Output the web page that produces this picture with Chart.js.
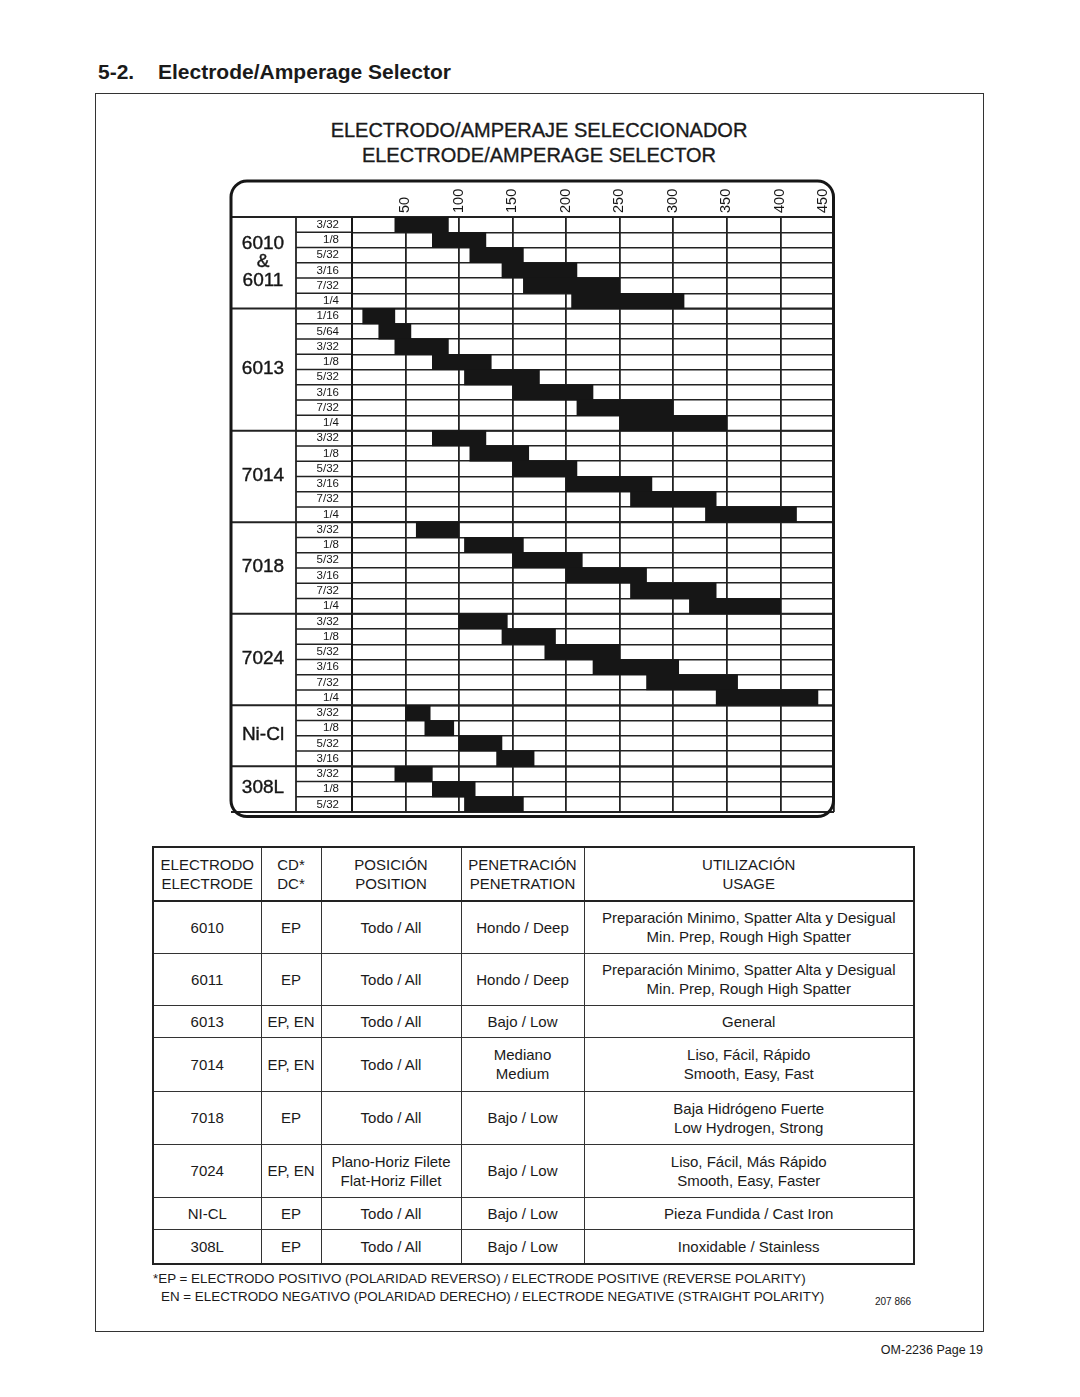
<!DOCTYPE html>
<html>
<head>
<meta charset="utf-8">
<script src="https://cdn.jsdelivr.net/npm/chart.js@4.4.1/dist/chart.umd.min.js"></script>
<style>
  html, body { margin:0; padding:0; background:#fff; }
  body { width:1080px; height:1397px; position:relative; font-family:"Liberation Sans", Arial, Helvetica, sans-serif; color:#1a1a1a; }
  .abs { position:absolute; }
  #heading { left:98px; top:60px; font-size:21px; font-weight:bold; white-space:nowrap; }
  #heading span { display:inline-block; width:60px; }
  #box { left:95px; top:93px; width:887px; height:1237px; border:1px solid #333; }
  .ctitle { left:95px; width:888px; text-align:center; font-size:20px; white-space:nowrap; -webkit-text-stroke:0.35px #1a1a1a; }
  #chartWrap { left:226px; top:172px; width:614px; height:660px; }
  table { position:absolute; left:152px; top:846px; width:761px; border-collapse:collapse; table-layout:fixed; border:2.5px solid #222; }
  td { border:1.5px solid #333; text-align:center; vertical-align:middle; font-size:15px; line-height:19px; padding:0; color:#1a1a1a; }
  tr.hd td { border-bottom:2.5px solid #222; }
  .foot { font-size:13.4px; white-space:nowrap; color:#1a1a1a; }
</style>
</head>
<body>
<div id="heading" class="abs"><span>5-2.</span>Electrode/Amperage Selector</div>
<div id="box" class="abs"></div>
<div class="abs ctitle" style="top:119px;">ELECTRODO/AMPERAJE SELECCIONADOR</div>
<div class="abs ctitle" style="top:144px;">ELECTRODE/AMPERAGE SELECTOR</div>
<div id="chartWrap" class="abs"><canvas id="c" width="614" height="660"></canvas></div>

<table id="tbl">
  <colgroup><col style="width:108px"><col style="width:60px"><col style="width:140px"><col style="width:123px"><col style="width:330px"></colgroup>
  <tbody id="tb"></tbody>
</table>

<div class="abs foot" style="left:153px; top:1271px;">*EP = ELECTRODO POSITIVO (POLARIDAD REVERSO) / ELECTRODE POSITIVE (REVERSE POLARITY)</div>
<div class="abs foot" style="left:161px; top:1289px;">EN = ELECTRODO NEGATIVO (POLARIDAD DERECHO) / ELECTRODE NEGATIVE (STRAIGHT POLARITY)</div>
<div class="abs" style="left:875px; top:1296px; font-size:10px;">207 866</div>
<div class="abs" style="right:97px; top:1343px; font-size:12.5px;">OM-2236 Page 19</div>

<script>
// ---------- DATA ----------
const groupNames = [["6010","&","6011"], ["6013"], ["7014"], ["7018"], ["7024"], ["Ni-Cl"], ["308L"]];

const sizes6010 = ["3/32","1/8","5/32","3/16","7/32","1/4"];
const amps6010  = [[40,90],[75,125],[110,160],[140,210],[160,250],[205,310]];

const sizes6013 = ["1/16","5/64","3/32","1/8","5/32","3/16","7/32","1/4"];
const amps6013  = [[10,40],[25,55],[40,90],[75,130],[105,175],[150,225],[210,300],[250,350]];

const sizes7014 = ["3/32","1/8","5/32","3/16","7/32","1/4"];
const amps7014  = [[75,125],[110,165],[150,210],[200,280],[260,340],[330,415]];

const sizes7018 = ["3/32","1/8","5/32","3/16","7/32","1/4"];
const amps7018  = [[60,100],[105,160],[150,215],[200,275],[260,340],[315,400]];

const sizes7024 = ["3/32","1/8","5/32","3/16","7/32","1/4"];
const amps7024  = [[100,145],[140,190],[180,250],[225,305],[275,360],[340,435]];

const sizesNiCl = ["3/32","1/8","5/32","3/16"];
const ampsNiCl  = [[50,73],[68,95],[100,140],[135,170]];

const sizes308L = ["3/32","1/8","5/32"];
const amps308L  = [[40,75],[75,115],[105,160]];

const ampTickValues = [0,50,100,150,200,250,300,350,400,450];
const ampTickLabels = ["","50","100","150","200","250","300","350","400","450"];

// table data
const tblHeader = [["ELECTRODO","ELECTRODE"],["CD*","DC*"],["POSICIÓN","POSITION"],["PENETRACIÓN","PENETRATION"],["UTILIZACIÓN","USAGE"]];
const tblElectrode = ["6010","6011","6013","7014","7018","7024","NI-CL","308L"];
const tblPolarity  = ["EP","EP","EP, EN","EP, EN","EP","EP, EN","EP","EP"];
const tblPosition  = [["Todo / All"],["Todo / All"],["Todo / All"],["Todo / All"],["Todo / All"],["Plano-Horiz Filete","Flat-Horiz Fillet"],["Todo / All"],["Todo / All"]];
const tblPenetration = [["Hondo / Deep"],["Hondo / Deep"],["Bajo / Low"],["Mediano","Medium"],["Bajo / Low"],["Bajo / Low"],["Bajo / Low"],["Bajo / Low"]];
const tblUsage = [["Preparación Minimo, Spatter Alta y Desigual","Min. Prep, Rough High Spatter"],["Preparación Minimo, Spatter Alta y Desigual","Min. Prep, Rough High Spatter"],["General"],["Liso, Fácil, Rápido","Smooth, Easy, Fast"],["Baja Hidrógeno Fuerte","Low Hydrogen, Strong"],["Liso, Fácil, Más Rápido","Smooth, Easy, Faster"],["Pieza Fundida / Cast Iron"],["Inoxidable / Stainless"]];
const tblRowHeights = [54,52,52,32,54,53,53,32,35];

// ---------- TABLE ----------
(function(){
  const tb = document.getElementById('tb');
  const hr = document.createElement('tr'); hr.className='hd'; hr.style.height = tblRowHeights[0]+'px';
  tblHeader.forEach(h=>{ const td=document.createElement('td'); td.innerHTML=h.join('<br>'); hr.appendChild(td); });
  tb.appendChild(hr);
  tblElectrode.forEach((e,i)=>{
    const tr=document.createElement('tr'); tr.style.height = tblRowHeights[i+1]+'px';
    [[e],[tblPolarity[i]],tblPosition[i],tblPenetration[i],tblUsage[i]].forEach(c=>{
      const td=document.createElement('td'); td.innerHTML=c.join('<br>'); tr.appendChild(td);
    });
    tb.appendChild(tr);
  });
})();

// ---------- CHART ----------
const groupSizes = [sizes6010, sizes6013, sizes7014, sizes7018, sizes7024, sizesNiCl, sizes308L];
const groupAmps  = [amps6010, amps6013, amps7014, amps7018, amps7024, ampsNiCl, amps308L];
const allLabels = [].concat(...groupSizes);
const allData   = [].concat(...groupAmps);

const INK = '#161616';
const FONT = '"Liberation Sans", Arial, sans-serif';

const leftColumnsPlugin = {
  id: 'leftColumns',
  beforeDatasetsDraw(chart) {
    const ctx = chart.ctx, y = chart.scales.y, a = chart.chartArea;
    const rowH = y.getPixelForValue(1) - y.getPixelForValue(0);
    const xGroupLine = a.left - 56;
    ctx.save();
    ctx.strokeStyle = '#222';
    ctx.lineWidth = 1.5;
    for (let i = 0; i <= allLabels.length; i++) {
      const py = y.getPixelForValue(i) - rowH/2;
      ctx.beginPath(); ctx.moveTo(xGroupLine, py); ctx.lineTo(a.left, py); ctx.stroke();
    }
    ctx.lineWidth = 2;
    let idx = 0;
    for (let g = 0; g <= groupSizes.length; g++) {
      const py = y.getPixelForValue(idx) - rowH/2;
      ctx.beginPath(); ctx.moveTo(a.left - 121, py); ctx.lineTo(a.right, py); ctx.stroke();
      if (g < groupSizes.length) idx += groupSizes[g].length;
    }
    ctx.lineWidth = 1.8;
    ctx.beginPath(); ctx.moveTo(xGroupLine, a.top); ctx.lineTo(xGroupLine, a.bottom); ctx.stroke();
    ctx.restore();
  },
  afterDraw(chart) {
    const ctx = chart.ctx, y = chart.scales.y, a = chart.chartArea;
    ctx.save();
    ctx.fillStyle = INK;
    ctx.strokeStyle = INK;
    ctx.lineWidth = 0.4;
    ctx.font = '19px ' + FONT;
    ctx.textAlign = 'center'; ctx.textBaseline = 'middle';
    const cx = a.left - 89;
    let idx = 0;
    groupNames.forEach((lines, g) => {
      const n = groupSizes[g].length;
      const cy = (y.getPixelForValue(idx) + y.getPixelForValue(idx + n - 1)) / 2;
      const lh = 18.5;
      lines.forEach((t, k) => {
        const ty = cy - 1 + (k - (lines.length - 1)/2) * lh;
        ctx.fillText(t, cx, ty);
        ctx.strokeText(t, cx, ty);
      });
      idx += n;
    });
    const L = a.left - 121, T = a.top - 36, R = a.right - 0.5, B = a.bottom + 4.5;
    ctx.lineWidth = 3;
    ctx.beginPath();
    ctx.roundRect(L, T, R - L, B - T, 16);
    ctx.stroke();
    ctx.restore();
  }
};

new Chart(document.getElementById('c'), {
  type: 'bar',
  data: {
    labels: allLabels,
    datasets: [{
      data: allData,
      backgroundColor: INK,
      borderWidth: 0,
      barPercentage: 1,
      categoryPercentage: 1,
      borderSkipped: false
    }]
  },
  options: {
    indexAxis: 'y',
    responsive: false,
    animation: false,
    devicePixelRatio: 1,
    layout: { padding: { left: 0, top: 0, right: 6, bottom: 10 } },
    plugins: { legend: { display: false }, tooltip: { enabled: false }, title: { display: false } },
    scales: {
      x: {
        type: 'linear',
        position: 'top',
        min: 0, max: 450,
        afterBuildTicks: s => { s.ticks = ampTickValues.map(v => ({ value: v })); },
        afterFit: s => { s.height = 45; },
        ticks: {
          autoSkip: false, minRotation: 90, maxRotation: 90, padding: 4, labelOffset: 17,
          color: INK,
          // last label sits just inside the frame, as in the original
          font: c => ({ family: FONT, size: 14.5, lineHeight: (c.index === ampTickValues.length - 1) ? 1.93 : 1.2 }),
          callback: (v, i) => ampTickLabels[i]
        },
        grid: { color: '#222', lineWidth: 1.8, drawTicks: false },
        border: { display: true, color: INK, width: 2 }
      },
      y: {
        type: 'category',
        position: 'left',
        offset: true,
        afterFit: s => { s.width = 126; },
        ticks: {
          autoSkip: false, padding: 13, color: INK,
          font: { family: FONT, size: 11.5 }
        },
        grid: { offset: true, color: '#222', lineWidth: 1.5, drawTicks: false },
        border: { display: true, color: INK, width: 2 }
      }
    }
  },
  plugins: [leftColumnsPlugin]
});
</script>
</body>
</html>
